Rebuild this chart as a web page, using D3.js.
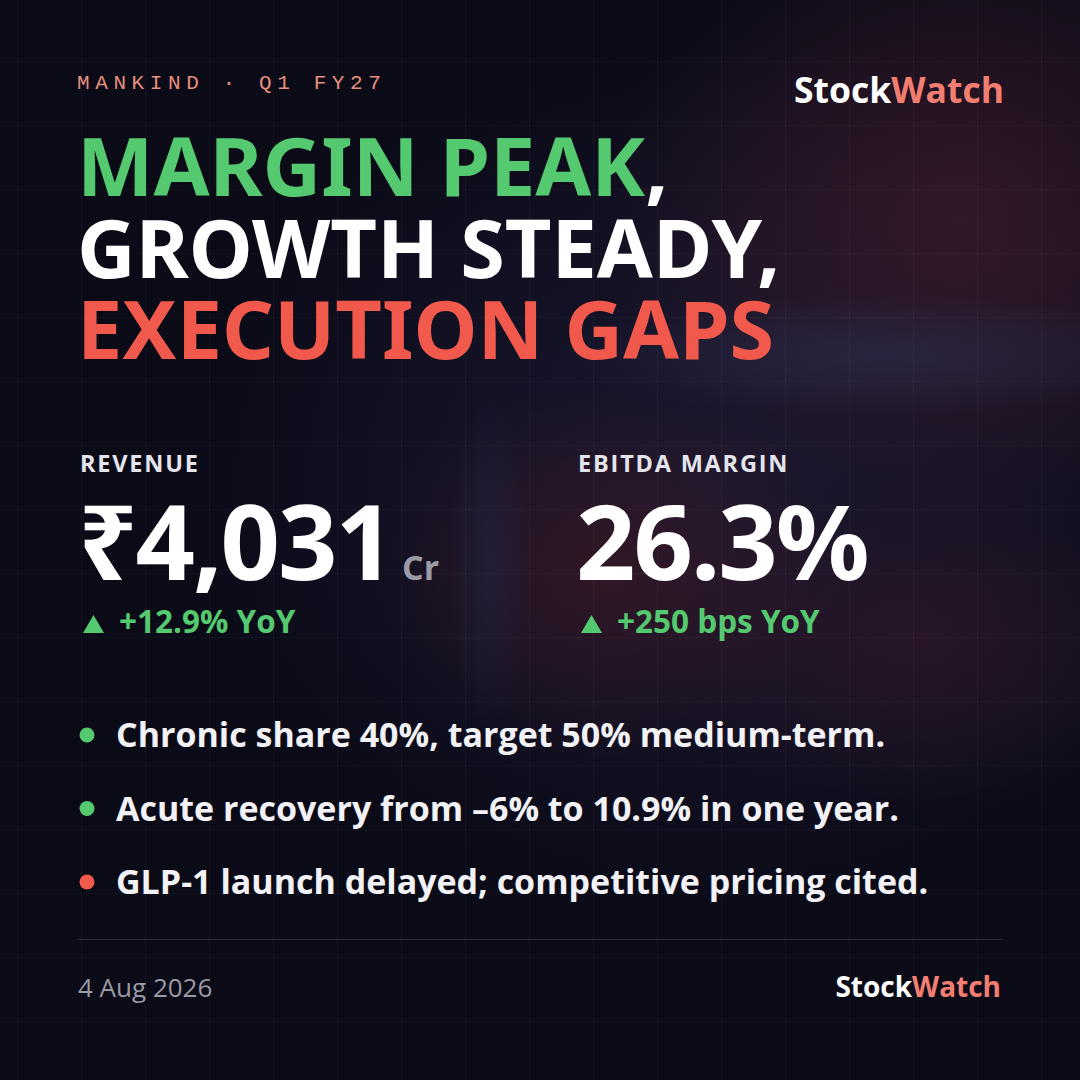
<!DOCTYPE html>
<html>
<head>
<meta charset="utf-8">
<script src="https://cdn.jsdelivr.net/npm/d3@7"></script>
<style>
  html, body { margin: 0; padding: 0; background: #0b0a16; }
  svg { display: block; }
</style>
</head>
<body>
<svg id="card"></svg>
<script>
// content
const kicker = "MANKIND · Q1 FY27";
const brandParts = ["Stock", "Watch"];
const headlineLines = [
  [{ t: "MARGIN PEAK", tone: "up" }, { t: ",", tone: "plain" }],
  [{ t: "GROWTH STEADY,", tone: "plain" }],
  [{ t: "EXECUTION GAPS", tone: "down" }]
];
const statLabels = ["REVENUE", "EBITDA MARGIN"];
const statValues = ["₹4,031", "26.3%"];
const statUnits = ["Cr", ""];
const statChanges = ["+12.9% YoY", "+250 bps YoY"];
const bulletTexts = [
  "Chronic share 40%, target 50% medium-term.",
  "Acute recovery from –6% to 10.9% in one year.",
  "GLP-1 launch delayed; competitive pricing cited."
];
const bulletTones = ["up", "up", "down"];
const dateLabel = "4 Aug 2026";

const W = 1080, H = 1080;
const tone = { up: "#55c96f", down: "#f2594d", plain: "#ffffff" };
const sans = "'Noto Sans', 'Open Sans', sans-serif";
const body = "'Open Sans', 'Noto Sans', sans-serif";

const svg = d3.select("#card").attr("width", W).attr("height", H);

// background: dark base with soft glows
svg.append("rect").attr("width", W).attr("height", H).attr("fill", "#0b0a17");

const glows = [
  { id: "g0", cx: 720, cy: 480, rx: 540, ry: 440, c: "#1b1932", o: 0.9 },
  { id: "g1", cx: 960, cy: 220, rx: 360, ry: 320, c: "#3e1c2d", o: 0.75 },
  { id: "g2", cx: 610, cy: 570, rx: 240, ry: 190, c: "#3c1925", o: 0.7 },
  { id: "g3", cx: 920, cy: 640, rx: 270, ry: 170, c: "#331828", o: 0.65 },
  { id: "g4", cx: 880, cy: 355, rx: 330, ry: 60, c: "#2d3758", o: 0.45 },
  { id: "g5", cx: 490, cy: 560, rx: 40, ry: 170, c: "#202846", o: 0.5 }
];
const defs = svg.append("defs");
glows.forEach(d => {
  const rg = defs.append("radialGradient").attr("id", d.id);
  rg.append("stop").attr("offset", "0%").attr("stop-color", d.c).attr("stop-opacity", d.o);
  rg.append("stop").attr("offset", "55%").attr("stop-color", d.c).attr("stop-opacity", d.o * 0.5);
  rg.append("stop").attr("offset", "100%").attr("stop-color", d.c).attr("stop-opacity", 0);
});
svg.append("g")
  .selectAll("ellipse").data(glows).join("ellipse")
  .attr("cx", d => d.cx).attr("cy", d => d.cy)
  .attr("rx", d => d.rx).attr("ry", d => d.ry)
  .attr("fill", d => `url(#${d.id})`);

// faint grid
const grid = svg.append("g")
  .attr("stroke", "#ffffff").attr("stroke-opacity", 0.03).attr("stroke-width", 1);
grid.selectAll(".gv").data(d3.range(17, W, 64)).join("line")
  .attr("x1", d => d + 0.5).attr("x2", d => d + 0.5).attr("y1", 0).attr("y2", H);
grid.selectAll(".gh").data(d3.range(61, H, 64)).join("line")
  .attr("y1", d => d + 0.5).attr("y2", d => d + 0.5).attr("x1", 0).attr("x2", W);

// header
svg.append("text")
  .attr("x", 77).attr("y", 89)
  .attr("fill", "#e6907f")
  .style("font-family", "'Liberation Mono', 'Courier New', monospace")
  .style("font-size", "21px")
  .style("letter-spacing", "5.6px")
  .text(kicker);

function brand(x, y, size) {
  const t = svg.append("text")
    .attr("x", x).attr("y", y)
    .attr("text-anchor", "end")
    .style("font-family", body)
    .style("font-weight", 700)
    .style("font-size", size + "px");
  t.selectAll("tspan").data(brandParts).join("tspan")
    .attr("fill", (d, i) => i === 0 ? "#ffffff" : "#f27e72")
    .text(d => d);
}
brand(1004, 103, 35.5);

// headline
const lineY = d3.scalePoint().domain(d3.range(headlineLines.length)).range([196, 359]);
const head = svg.append("g")
  .style("font-family", sans)
  .style("font-weight", 700)
  .style("font-size", "81px");
headlineLines.forEach((parts, i) => {
  head.append("text")
    .attr("x", 77).attr("y", lineY(i))
    .selectAll("tspan").data(parts).join("tspan")
    .attr("fill", d => tone[d.tone])
    .text(d => d.t);
});

// stats
const statX = d3.scalePoint().domain(d3.range(statLabels.length)).range([80, 578]);
statLabels.forEach((label, i) => {
  const x = statX(i);
  const g = svg.append("g").style("font-family", body);

  g.append("text")
    .attr("x", x).attr("y", 472)
    .attr("fill", "#e4e4ec")
    .style("font-weight", 700)
    .style("font-size", "23.5px")
    .style("letter-spacing", "1.8px")
    .text(label);

  const val = g.append("text")
    .attr("x", x - 2).attr("y", 580)
    .attr("fill", "#ffffff")
    .style("font-family", sans)
    .style("font-weight", 700)
    .style("font-size", "104px")
    .style("letter-spacing", "-2px")
    .text(statValues[i]);

  if (statUnits[i]) {
    const w = val.node().getComputedTextLength();
    g.append("text")
      .attr("x", x + w + 7).attr("y", 580)
      .attr("fill", "#9b9ba6")
      .style("font-weight", 700)
      .style("font-size", "34px")
      .text(statUnits[i]);
  }

  const tri = d3.path();
  tri.moveTo(x + 3, 633);
  tri.lineTo(x + 24, 633);
  tri.lineTo(x + 13.5, 615);
  tri.closePath();
  g.append("path").attr("d", tri.toString()).attr("fill", tone.up);

  g.append("text")
    .attr("x", x + 39).attr("y", 633)
    .attr("fill", tone.up)
    .style("font-weight", 700)
    .style("font-size", "31.5px")
    .text(statChanges[i]);
});

// bullets
const bulletY = d3.scalePoint().domain(d3.range(bulletTexts.length)).range([747, 894]);
const bullets = svg.append("g").style("font-family", body);
bullets.selectAll("circle").data(bulletTexts).join("circle")
  .attr("cx", 87).attr("cy", (d, i) => bulletY(i) - 12)
  .attr("r", 7.5)
  .attr("fill", (d, i) => tone[bulletTones[i]]);
bullets.selectAll("text").data(bulletTexts).join("text")
  .attr("x", 116).attr("y", (d, i) => bulletY(i))
  .attr("fill", "#f2f2f6")
  .style("font-weight", 700)
  .style("font-size", "34px")
  .text(d => d);

// footer
svg.append("line")
  .attr("x1", 78).attr("x2", 1002)
  .attr("y1", 939.5).attr("y2", 939.5)
  .attr("stroke", "#ffffff").attr("stroke-opacity", 0.14);

svg.append("text")
  .attr("x", 78).attr("y", 997)
  .attr("fill", "#9a9aa6")
  .style("font-family", body)
  .style("font-size", "26px")
  .text(dateLabel);

brand(1001, 997, 28);
</script>
</body>
</html>
